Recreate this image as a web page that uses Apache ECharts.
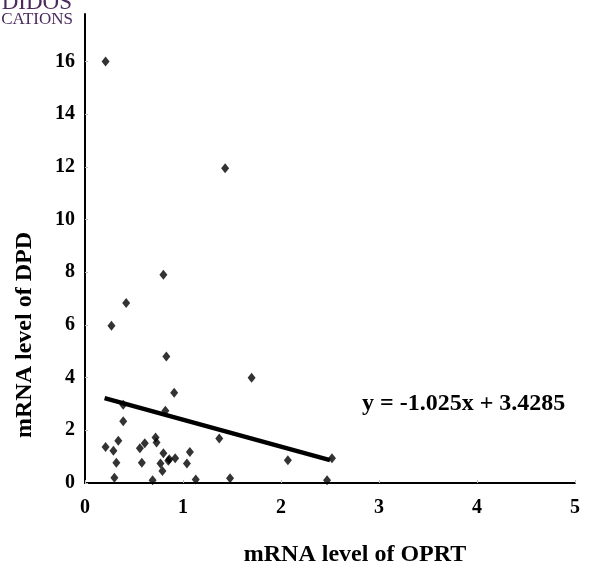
<!DOCTYPE html>
<html>
<head>
<meta charset="utf-8">
<script src="https://cdn.jsdelivr.net/npm/echarts@6/dist/echarts.min.js"></script>
<style>html,body{margin:0;padding:0;background:#fff;}#c{width:592px;height:571px;}</style>
</head>
<body>
<div id="c"></div>
<script>
// OPRT (x) vs DPD (y) mRNA levels
const oprt = [0.21,0.29,0.34,0.32,0.30,0.39,0.39,0.56,0.61,0.58,0.69,0.72,0.73,0.80,0.77,0.79,0.85,0.86,0.92,0.82,0.91,1.04,1.07,1.13,1.37,1.48,2.07,2.47,2.52,0.80,0.42,0.27,0.83,1.70,0.21,1.43];
const dpd  = [1.37,1.22,1.60,0.77,0.20,2.34,2.97,1.32,1.51,0.77,0.10,1.73,1.54,1.13,0.74,0.46,0.84,0.90,0.94,2.74,3.43,0.74,1.18,0.13,1.69,0.18,0.86,0.10,0.94,7.90,6.83,5.97,4.80,3.99,16.0,11.95];
const fitX = [0.2, 2.5];
const slope = -1.025, intercept = 3.4285;
const xTicks = [0,1,2,3,4,5];
const yTicks = [0,2,4,6,8,10,12,14,16];

const points = oprt.map((x,i)=>[x,dpd[i]]);
const fitLine = fitX.map(x=>[x, slope*x+intercept]);
const font = '"Liberation Serif", "Times New Roman", serif';

const chart = echarts.init(document.getElementById('c'));
chart.setOption({
  animation:false,
  backgroundColor:'#fff',
  grid:{left:85,right:17,top:14,bottom:88},
  xAxis:{type:'value',min:0,max:5,interval:1,
    axisLine:{show:true,onZero:false,lineStyle:{color:'#000',width:2}},
    axisTick:{show:true,inside:true,length:3,lineStyle:{color:'#bbb'}},
    splitLine:{show:false},
    axisLabel:{color:'#000',fontFamily:font,fontWeight:'bold',fontSize:20,margin:15,
      formatter:v=>xTicks.includes(v)?String(v):''}},
  yAxis:{type:'value',min:0,max:17.8,interval:2,
    axisLine:{show:true,onZero:false,lineStyle:{color:'#000',width:2}},
    axisTick:{show:true,inside:true,length:3,lineStyle:{color:'#bbb'}},
    splitLine:{show:false},
    axisLabel:{color:'#000',fontFamily:font,fontWeight:'bold',fontSize:20,margin:10,showMaxLabel:false,
      formatter:v=>yTicks.includes(v)?String(v):''}},
  series:[
    {type:'scatter',data:points,symbol:'diamond',symbolSize:[8,10],itemStyle:{color:'#000'},z:3},
    {type:'line',data:fitLine,showSymbol:false,symbol:'none',lineStyle:{color:'#000',width:4.5},z:2}
  ],
  graphic:[
    {type:'text',x:25,y:335,rotation:Math.PI/2,style:{text:'mRNA level of DPD',fontFamily:font,fontWeight:'bold',fontSize:24,fill:'#000',align:'center',verticalAlign:'middle'}},
    {type:'text',x:355,y:555,style:{text:'mRNA level of OPRT',fontFamily:font,fontWeight:'bold',fontSize:24,fill:'#000',align:'center',verticalAlign:'middle'}},
    {type:'text',x:362,y:404,style:{text:'y = -1.025x + 3.4285',fontFamily:font,fontWeight:'bold',fontSize:24,fill:'#000',align:'left',verticalAlign:'middle'}},
    {type:'text',x:72,y:3,style:{text:'DIDOS',fontFamily:font,fontSize:23,fill:'#4b2a5c',align:'right',verticalAlign:'middle'}},
    {type:'text',x:73,y:20,style:{text:'CATIONS',fontFamily:font,fontSize:17,fill:'#4b2a5c',align:'right',verticalAlign:'middle'}}
  ]
});
</script>
</body>
</html>
